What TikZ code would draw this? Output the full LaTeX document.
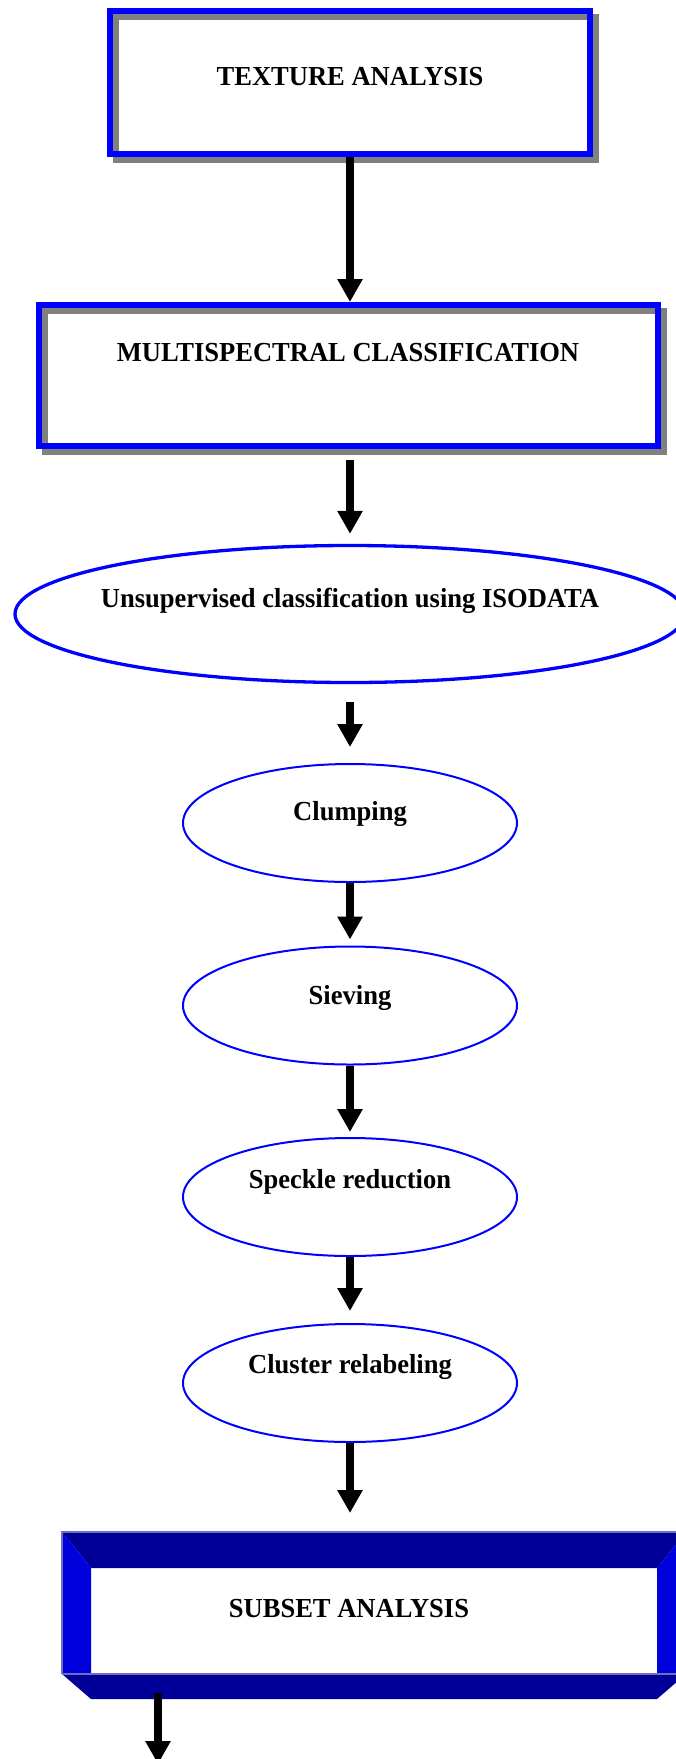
\documentclass[tikz,border=0pt]{standalone}
\usepackage{fontspec}
\setmainfont{Liberation Serif}[FakeStretch=0.965]
\usetikzlibrary{arrows.meta,shapes.geometric}
\definecolor{frameblue}{RGB}{0,0,255}
\definecolor{shadowgrey}{RGB}{128,128,128}
\definecolor{navyband}{RGB}{0,0,153}
\definecolor{bevelblue}{RGB}{0,0,221}
\definecolor{edgeblue}{RGB}{110,110,190}
\pgfdeclarelayer{bg}
\pgfsetlayers{bg,main}
\begin{document}
\begin{tikzpicture}[x=1pt,y=-1pt,
  txt/.style={font=\fontsize{27.5}{33}\selectfont\bfseries, inner sep=0pt, anchor=base},
  framebox/.style={draw=frameblue, line width=6pt, inner sep=0pt},
  shadowframe/.style={draw=shadowgrey, line width=6pt},
  oval/.style={ellipse, draw=frameblue, line width=2pt, inner sep=0pt, minimum width=334pt, minimum height=118pt},
  arr/.style={line width=8pt, -{Triangle[width=24pt,length=23pt]}},
  topband/.style={fill=navyband},
  sideband/.style={fill=bevelblue},
  edgeline/.style={draw=edgeblue, line width=1.5pt},
]
\useasboundingbox (0,0) rectangle (676,1759);

% boxes with shadow
\node[framebox, minimum width=480pt, minimum height=143pt] (b1) at (350,82.5) {};
\node[txt] (t1) at (350,85) {TEXTURE ANALYSIS};
\node[framebox, minimum width=619pt, minimum height=141pt] (b2) at (348.5,375.5) {};
\node[txt] (t2) at (348,361) {MULTISPECTRAL CLASSIFICATION};
\begin{pgfonlayer}{bg}
  \draw[shadowframe] ([shift={(9,9)}]b1.north west) rectangle ([shift={(3,3)}]b1.south east);
  \draw[shadowframe] ([shift={(8.5,8.5)}]b2.north west) rectangle ([shift={(2.5,2.5)}]b2.south east);
\end{pgfonlayer}

% ellipses
\node[oval, line width=3.3pt, minimum width=670pt, minimum height=137pt] (e1) at (350,614) {};
\node[txt] (t3) at (350,607) {Unsupervised classification using ISODATA};
\node[oval] (c1) at (350,823) {};
\node[txt] (t4) at (350,820) {Clumping};
\node[oval] (c2) at (350,1005.5) {};
\node[txt] (t5) at (350,1004) {Sieving};
\node[oval] (c3) at (350,1197) {};
\node[txt] (t6) at (350,1188) {Speckle reduction};
\node[oval] (c4) at (350,1383) {};
\node[txt] (t7) at (350,1373) {Cluster relabeling};

% subset bevel box
\node[inner sep=0pt, outer sep=0pt, minimum width=624pt, minimum height=167pt] (sub) at (374,1615.5) {};
\fill[topband] (62,1532) -- (686,1532) -- (657,1568) -- (91,1568) -- cycle;
\fill[sideband] (62,1532) -- (91,1568) -- (91,1674) -- (62,1674) -- cycle;
\fill[sideband] (686,1532) -- (686,1674) -- (657,1674) -- (657,1568) -- cycle;
\fill[topband] (62,1674) -- (686,1674) -- (657,1699) -- (91,1699) -- cycle;
\draw[edgeline] (62,1674) -- (62,1532) -- (686,1532);
\draw[edgeline] (62,1674) -- (686,1674);
\node[txt] (t8) at (349,1617) {SUBSET ANALYSIS};

% arrows
\draw[arr] (b1.south) -- (b1.south |- b2.north);
\draw[arr, shorten <=11pt, shorten >=10pt] (e1.north |- b2.south) -- (e1.north);
\draw[arr, shorten <=18pt, shorten >=16pt] (e1.south) -- (c1.north);
\draw[arr, shorten >=6pt] (c1.south) -- (c2.north);
\draw[arr, shorten >=5pt] (c2.south) -- (c3.north);
\draw[arr, shorten >=12pt] (c3.south) -- (c4.north);
\draw[arr, shorten >=19pt] (c4.south) -- (c4.south |- sub.north);
\coordinate (o1) at (158,1693);
\coordinate (o2) at (158,1764);
\draw[arr] (o1) -- (o2);
\end{tikzpicture}
\end{document}
